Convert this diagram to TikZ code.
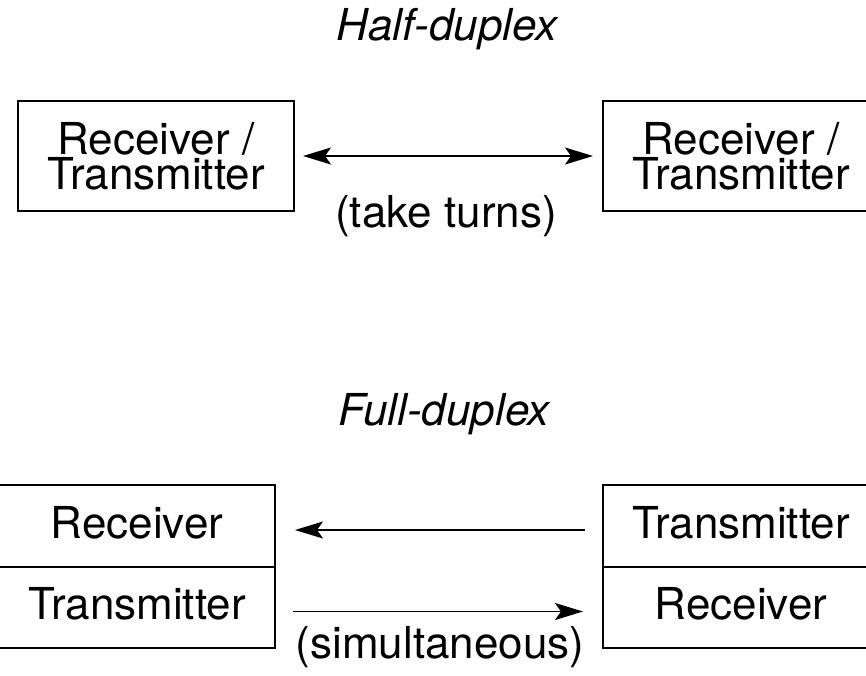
\documentclass[tikz,border=0pt]{standalone}
\usepackage{fontspec}
\setmainfont{TeX Gyre Heros}
\usetikzlibrary{positioning,arrows.meta}

\begin{document}
\begin{tikzpicture}[x=1pt, y=-1pt,
		font=\fontsize{44}{35}\selectfont,
		>={Stealth[length=28pt, width=17pt, inset=6pt]},
		box/.style={draw, line width=2.4pt, minimum width=276pt, inner sep=0pt, outer sep=0pt, align=center},
		cell/.style={box, minimum height=81.5pt, text height=32pt, text depth=8pt},
		link/.style={line width=1.8pt}]
		% 画布大小
		\useasboundingbox (0, 0) rectangle (866, 675);

		% 半双工
		\node[anchor=base] (halftitle) at (447, 40) {\itshape Half-duplex};
		\node[box, minimum height=110pt] (hleft) at (156, 156) {Receiver /\\Transmitter};
		\node[box, minimum height=110pt] (hright) at (741, 156) {Receiver /\\Transmitter};
		\draw[link, <->, shorten <=9pt, shorten >=10pt] (hleft.east) -- (hright.west);
		\node[anchor=base] (turns) at (446, 227) {(take turns)};

		% 全双工
		\node[anchor=base] (fulltitle) at (444, 425) {\itshape Full-duplex};
		\node[cell] (fltop) at (137, 526) {Receiver};
		\node[cell, below=0pt of fltop] (flbot) {Transmitter};
		\node[cell] (frtop) at (741, 526) {Transmitter};
		\node[cell, below=0pt of frtop] (frbot) {Receiver};

		% 两个方向同时传输
		\draw[link, ->, shorten <=18pt, shorten >=20pt] ([yshift=-4pt]frtop.west) -- ([yshift=-4pt]fltop.east);
		\draw[link, ->, shorten <=18pt, shorten >=20pt] ([yshift=-4pt]flbot.east) -- ([yshift=-4pt]frbot.west);
		\node[anchor=base] (simul) at (440, 658) {(simultaneous)};
	\end{tikzpicture}
\end{document}
